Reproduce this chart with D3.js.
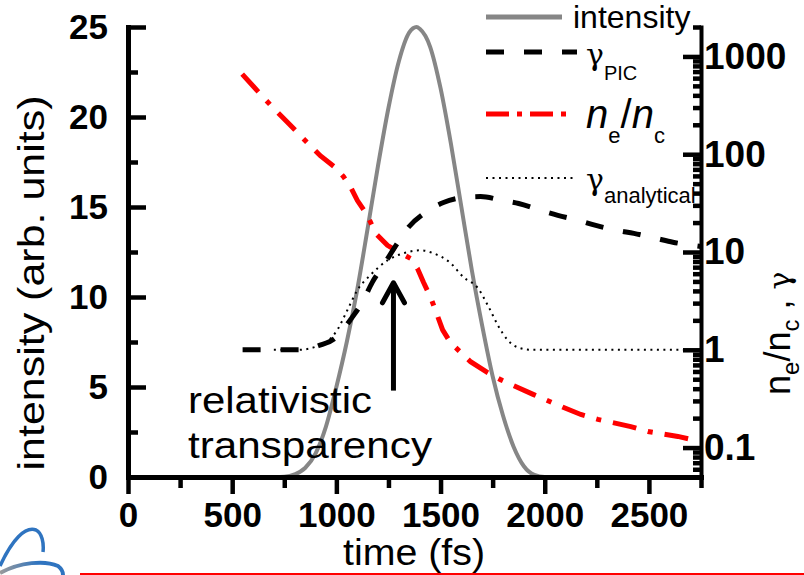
<!DOCTYPE html>
<html>
<head>
<meta charset="utf-8">
<script src="https://cdn.jsdelivr.net/npm/d3@7"></script>
<style>
  body { margin: 0; background: #fff; }
  svg { display: block; font-family: "Liberation Sans", Arial, sans-serif; }
  .tick text { font-weight: bold; font-size: 35px; fill: #000; }
  .greek { font-family: "DejaVu Serif", serif; }
</style>
</head>
<body>
<div class="chart"></div>
<script>
// Data
var intensityTime = [700, 750, 800, 850, 900, 950, 1000, 1050, 1100, 1150, 1200, 1250, 1300, 1350, 1385, 1400, 1450, 1500, 1550, 1600, 1650, 1700, 1750, 1800, 1850, 1900, 1950, 2000, 2750];
var intensity = [0, 0.02, 0.15, 0.5, 1.3, 2.8, 5.0, 7.5, 10.4, 13.8, 17.3, 20.5, 23.1, 24.7, 25, 24.9, 23.9, 21.6, 18.5, 15.0, 11.5, 8.4, 5.6, 3.4, 1.7, 0.6, 0.12, 0, 0];

var densityTime = [548, 635, 697, 764, 856, 923, 995, 1034, 1067, 1101, 1149, 1188, 1245, 1317, 1356, 1389, 1418, 1452, 1510, 1548, 1644, 1726, 1788, 1947, 2091, 2173, 2255, 2413, 2495, 2639, 2740];
var density = [659, 413, 297, 214, 134, 96.5, 73, 59, 46.7, 33.6, 23.7, 15.5, 11.7, 9.5, 8.6, 6.8, 4.9, 3.46, 1.6, 1.18, 0.755, 0.583, 0.495, 0.348, 0.257, 0.218, 0.194, 0.164, 0.146, 0.130, 0.116];

var gammaPicTime = [550, 850, 913, 995, 1067, 1125, 1173, 1226, 1293, 1346, 1428, 1514, 1611, 1692, 1798, 1875, 1981, 2063, 2163, 2245, 2351, 2428, 2534, 2615, 2750];
var gammaPic = [1, 1, 1.1, 1.32, 2.02, 3.08, 4.92, 7.33, 12.3, 17.9, 25.4, 32.1, 36.1, 36.9, 33.6, 31.3, 26.6, 23.7, 21.0, 18.7, 16.6, 15.5, 13.8, 12.6, 11.4];

var gammaAnaTime = [700, 817, 923, 1005, 1053, 1101, 1163, 1245, 1322, 1404, 1466, 1548, 1611, 1678, 1731, 1774, 1822, 1875, 1933, 2750];
var gammaAna = [1, 1, 1.12, 1.6, 2.55, 4.08, 5.8, 8.2, 9.7, 10.4, 9.7, 7.7, 5.5, 4.3, 2.74, 1.8, 1.26, 1.05, 1, 1];

var xMajor = [0, 500, 1000, 1500, 2000, 2500];
var xMinor = [250, 750, 1250, 1750, 2250, 2750];
var yMajor = [0, 5, 10, 15, 20, 25];
var yMinor = [2.5, 7.5, 12.5, 17.5, 22.5];
var rMajor = [0.1, 1, 10, 100, 1000];

// annotation: arrow at this time, from / to intensity
var arrowTime = 1274, arrowFrom = 4.8, arrowTo = 10.9;

var svgWidth = 804, svgHeight = 575;
var margin = { top: 27, right: 103, bottom: 98, left: 128 };
var chartWidth = svgWidth - margin.left - margin.right;
var chartHeight = svgHeight - margin.top - margin.bottom;

var svg = d3.select(".chart").append("svg")
  .attr("width", svgWidth)
  .attr("height", svgHeight);

var chart = svg.append("g")
  .attr("transform", `translate(${margin.left}, ${margin.top})`);

var xScale = d3.scaleLinear().domain([0, 2750]).range([0, chartWidth]);
var yScale = d3.scaleLinear().domain([0, 25]).range([chartHeight, 0]);
var rScale = d3.scaleLog().domain([0.05, 2000]).range([chartHeight, 0]);

// lines
var intLine = d3.line()
  .x(function(d, i) { return xScale(intensityTime[i]); })
  .y(function(d) { return yScale(d); })
  .curve(d3.curveMonotoneX);

chart.append("path")
  .attr("d", intLine(intensity))
  .attr("fill", "none")
  .attr("stroke", "#868686")
  .attr("stroke-width", 4);

function logLine(times) {
  return d3.line()
    .x(function(d, i) { return xScale(times[i]); })
    .y(function(d) { return rScale(d); });
}

chart.append("path")
  .attr("d", logLine(gammaAnaTime).curve(d3.curveMonotoneX)(gammaAna))
  .attr("fill", "none")
  .attr("stroke", "#000")
  .attr("stroke-width", 2)
  .attr("stroke-dasharray", "2,4.5");

chart.append("path")
  .attr("d", logLine(densityTime)(density))
  .attr("fill", "none")
  .attr("stroke", "#ff0000")
  .attr("stroke-width", 5)
  .attr("stroke-dasharray", "24,12,5,12");

chart.append("path")
  .attr("d", logLine(gammaPicTime).curve(d3.curveMonotoneX)(gammaPic))
  .attr("fill", "none")
  .attr("stroke", "#000")
  .attr("stroke-width", 5)
  .attr("stroke-dasharray", "18,20");

// arrow
var ax = xScale(arrowTime), ay1 = yScale(arrowFrom), ay2 = yScale(arrowTo);
chart.append("line")
  .attr("x1", ax).attr("x2", ax)
  .attr("y1", ay1).attr("y2", ay2 + 3)
  .attr("stroke", "#000").attr("stroke-width", 5);
chart.append("path")
  .attr("d", `M${ax - 11},${ay2 + 22}L${ax},${ay2 + 2}L${ax + 11},${ay2 + 22}`)
  .attr("fill", "none").attr("stroke", "#000").attr("stroke-width", 5)
  .attr("stroke-linecap", "round").attr("stroke-linejoin", "round");

chart.append("text")
  .attr("x", 60).attr("y", 386)
  .attr("font-size", 36)
  .attr("textLength", 184).attr("lengthAdjust", "spacingAndGlyphs")
  .text("relativistic");
chart.append("text")
  .attr("x", 60).attr("y", 431)
  .attr("font-size", 36)
  .attr("textLength", 244).attr("lengthAdjust", "spacingAndGlyphs")
  .text("transparency");

// axes
function styleAxis(g, w) {
  g.select(".domain").attr("stroke-width", w).attr("stroke-linecap", "square");
  g.selectAll(".tick line").attr("stroke-width", 4.5);
}

chart.append("g")
  .attr("transform", `translate(0, ${chartHeight})`)
  .call(d3.axisBottom(xScale).tickValues(xMinor).tickSize(11).tickFormat(""))
  .call(styleAxis, 0);
chart.append("g")
  .attr("transform", `translate(0, ${chartHeight})`)
  .call(d3.axisBottom(xScale).tickValues(xMajor).tickSize(17).tickSizeOuter(0).tickPadding(8)
    .tickFormat(d3.format("d")))
  .call(styleAxis, 5);

chart.append("g")
  .call(d3.axisLeft(yScale).tickValues(yMinor).tickSize(-10).tickFormat(""))
  .call(styleAxis, 0);
chart.append("g")
  .call(d3.axisLeft(yScale).tickValues(yMajor).tickSize(-18).tickSizeOuter(0).tickPadding(20))
  .call(styleAxis, 5);

var rMinor = rScale.ticks().filter(function(d) {
  return rMajor.indexOf(d) < 0;
});
chart.append("g")
  .attr("transform", `translate(${chartWidth}, 0)`)
  .call(d3.axisRight(rScale).tickValues(rMinor).tickSize(-8).tickFormat(""))
  .call(styleAxis, 0);
chart.append("g")
  .attr("transform", `translate(${chartWidth}, 0)`)
  .call(d3.axisRight(rScale).tickValues(rMajor).tickSize(-18).tickSizeOuter(0).tickPadding(3)
    .tickFormat(function(d) { return d < 1 ? "0.1" : d; }))
  .call(styleAxis, 4)
  .selectAll(".tick text").attr("font-size", 37).style("font-size", "37px");

// axis titles
svg.append("text")
  .attr("transform", "translate(44, 283) rotate(-90)")
  .attr("text-anchor", "middle")
  .attr("font-size", 36)
  .attr("textLength", 375).attr("lengthAdjust", "spacingAndGlyphs")
  .text("intensity (arb. units)");

svg.append("text")
  .attr("x", 343).attr("y", 565)
  .attr("font-size", 36)
  .attr("textLength", 142).attr("lengthAdjust", "spacingAndGlyphs")
  .text("time (fs)");

var rTitle = svg.append("text")
  .attr("transform", "translate(790, 395) rotate(-90)")
  .attr("font-size", 36);
rTitle.append("tspan").text("n");
rTitle.append("tspan").attr("font-size", 24).attr("dy", 9).text("e");
rTitle.append("tspan").attr("dy", -9).text("/n");
rTitle.append("tspan").attr("font-size", 24).attr("dy", 9).text("c");
rTitle.append("tspan").attr("dy", -9).text(" , ");
rTitle.append("tspan").attr("class", "greek").attr("font-size", 30).text("γ");

// legend
var legend = svg.append("g");
legend.append("line").attr("x1", 486).attr("x2", 562).attr("y1", 17).attr("y2", 17)
  .attr("stroke", "#868686").attr("stroke-width", 5);
legend.append("text").attr("x", 573).attr("y", 28).attr("font-size", 32).text("intensity");

legend.append("line").attr("x1", 486).attr("x2", 577).attr("y1", 52).attr("y2", 52)
  .attr("stroke", "#000").attr("stroke-width", 5).attr("stroke-dasharray", "18,20");
var gp = legend.append("text").attr("x", 586).attr("y", 65).attr("font-size", 30);
gp.append("tspan").attr("class", "greek").text("γ");
gp.append("tspan").attr("font-size", 20).attr("dy", 15).text("PIC");

legend.append("line").attr("x1", 486).attr("x2", 572).attr("y1", 114).attr("y2", 114)
  .attr("stroke", "#ff0000").attr("stroke-width", 5).attr("stroke-dasharray", "23,8,5,8");
var ne = legend.append("text").attr("x", 586).attr("y", 128).attr("font-size", 40);
ne.append("tspan").attr("font-style", "italic").text("n");
ne.append("tspan").attr("font-size", 22).attr("dy", 15).text("e");
ne.append("tspan").attr("dy", -15).text("/");
ne.append("tspan").attr("font-style", "italic").text("n");
ne.append("tspan").attr("font-size", 22).attr("dy", 15).text("c");

legend.append("line").attr("x1", 486).attr("x2", 575).attr("y1", 178).attr("y2", 178)
  .attr("stroke", "#000").attr("stroke-width", 2).attr("stroke-dasharray", "2,4.5");
var ga = legend.append("text").attr("x", 586).attr("y", 190).attr("font-size", 30);
ga.append("tspan").attr("class", "greek").text("γ");
ga.append("tspan").attr("font-size", 22).attr("dy", 13).text("analytical");

// bottom decoration
var defs = svg.append("defs");
var grad = defs.append("linearGradient").attr("id", "logoGrad");
grad.append("stop").attr("offset", "0%").attr("stop-color", "#9a9a9a");
grad.append("stop").attr("offset", "60%").attr("stop-color", "#2f74c0");
svg.append("path")
  .attr("d", "M0,566 C12,540 25,526 36,530 C42,533 44,543 43,552")
  .attr("fill", "none").attr("stroke", "#2f74c0").attr("stroke-width", 3.5);
svg.append("path")
  .attr("d", "M0,573 C20,562 45,560 58,566 C62,569 63,573 63,575")
  .attr("fill", "none").attr("stroke", "url(#logoGrad)").attr("stroke-width", 4);
svg.append("line")
  .attr("x1", 80).attr("x2", 804).attr("y1", 574).attr("y2", 574)
  .attr("stroke", "#ff0000").attr("stroke-width", 2);
</script>
</body>
</html>
